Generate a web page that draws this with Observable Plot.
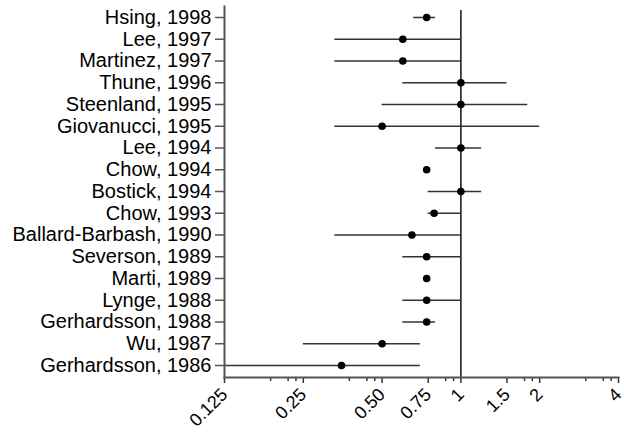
<!DOCTYPE html>
<html>
<head>
<meta charset="utf-8">
<script src="https://cdn.jsdelivr.net/npm/d3@7"></script>
<script src="https://cdn.jsdelivr.net/npm/@observablehq/plot@0.6"></script>
<style>
  html, body { margin: 0; padding: 0; background: #fff; }
  svg { display: block; }
</style>
</head>
<body>
<div id="chart"></div>
<script>
const studies = ["Hsing, 1998","Lee, 1997","Martinez, 1997","Thune, 1996","Steenland, 1995","Giovanucci, 1995","Lee, 1994","Chow, 1994","Bostick, 1994","Chow, 1993","Ballard-Barbash, 1990","Severson, 1989","Marti, 1989","Lynge, 1988","Gerhardsson, 1988","Wu, 1987","Gerhardsson, 1986"];
const estimate = [0.74, 0.6, 0.6, 1.0, 1.0, 0.5, 1.0, 0.74, 1.0, 0.79, 0.65, 0.74, 0.74, 0.74, 0.74, 0.5, 0.35];
const lower    = [0.66, 0.33, 0.33, 0.6, 0.5, 0.33, 0.8, null, 0.75, 0.75, 0.33, 0.6, null, 0.6, 0.6, 0.25, 0.1];
const upper    = [0.80, 1.0, 1.0, 1.5, 1.8, 2.0, 1.2, null, 1.2, 1.0, 1.0, 1.0, null, 1.0, 0.8, 0.7, 0.7];
const majorTicks = [0.125, 0.25, 0.5, 0.75, 1, 1.5, 2, 4];
const majorLabels = ["0.125", "0.25", "0.50", "0.75", "1", "1.5", "2", "4"];
const minorTicks = [0.1875, 0.21875, 0.234375, 0.375, 0.4375, 0.46875, 0.875, 0.9375, 1.75, 1.875, 3, 3.5, 3.75];

const rows = studies.map((s, i) => ({study: s, est: estimate[i], lo: lower[i], hi: upper[i]}));
const ciRows = rows.filter(d => d.lo != null);
const labelOf = new Map(majorTicks.map((t, i) => [t, majorLabels[i]]));

const chart = Plot.plot({
  width: 624,
  height: 433,
  marginLeft: 224,
  marginRight: 6,
  marginTop: 6,
  marginBottom: 56,
  style: {fontFamily: "Liberation Sans, Arial, sans-serif", fontSize: "20px", color: "#000"},
  x: {type: "log", base: 2, domain: [0.125, 4]},
  y: {type: "point", domain: studies, padding: 0, round: false, range: [17, 365]},
  marks: [
    Plot.axisY({tickSize: 9, tickPadding: 4, fontSize: 20, stroke: "#555", strokeWidth: 1.5, fill: "#000", label: null}),
    Plot.axisX(minorTicks, {tickSize: 4, tickFormat: () => "", stroke: "#333", strokeWidth: 1.5, label: null}),
    Plot.axisX(majorTicks, {tickSize: 6, tickPadding: 8, tickRotate: -45, tickFormat: d => labelOf.get(d), fontSize: 18, stroke: "#333", strokeWidth: 1.5, fill: "#000", label: null}),
    Plot.ruleX([1], {stroke: "#222", strokeWidth: 1.6, insetTop: 4}),
    Plot.ruleY(ciRows, {x1: "lo", x2: "hi", y: "study", stroke: "#333", strokeWidth: 1.5, clip: true}),
    Plot.dot(rows, {x: "est", y: "study", r: 3.8, fill: "#000", stroke: "none"}),
    Plot.frame({anchor: "bottom", stroke: "#555", strokeWidth: 2}),
    Plot.frame({anchor: "left", stroke: "#555", strokeWidth: 2})
  ]
});
document.getElementById("chart").appendChild(chart);
</script>
</body>
</html>
